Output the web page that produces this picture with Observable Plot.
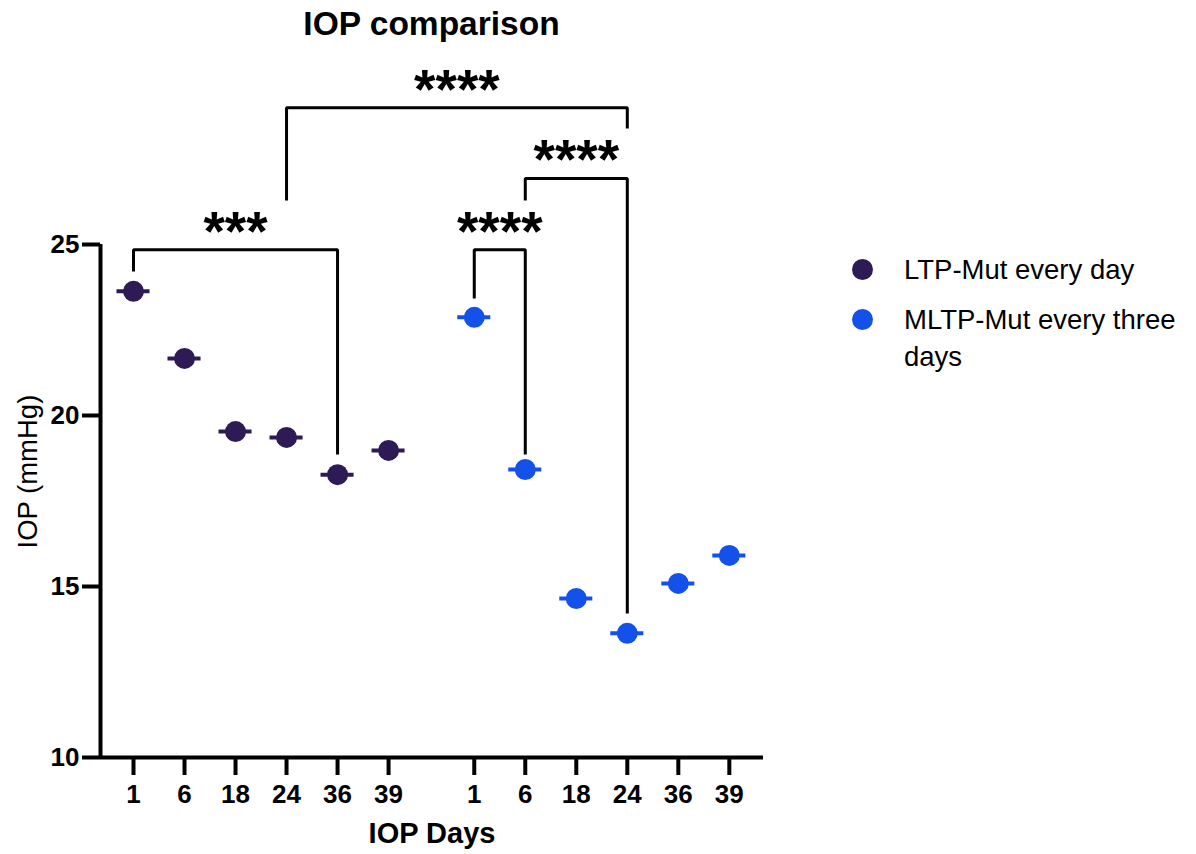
<!DOCTYPE html>
<html>
<head>
<meta charset="utf-8">
<script src="https://cdn.jsdelivr.net/npm/d3@7"></script>
<script src="https://cdn.jsdelivr.net/npm/@observablehq/plot@0.6"></script>
<style>
  html, body { margin: 0; padding: 0; background: #fff; }
  #wrap { position: relative; width: 1196px; height: 854px; overflow: hidden; font-family: "Liberation Sans", Arial, sans-serif; color: #000; }
  #title { position: absolute; left: 0; top: 0; width: 863px; height: 48px; line-height: 48px; text-align: center; font-size: 33.5px; font-weight: bold; }
  #chart { position: absolute; left: 0; top: 48px; }
  .legend-item { position: absolute; left: 852px; display: flex; align-items: flex-start; font-size: 27.5px; line-height: 37px; }
  .legend-item .sw { width: 21px; height: 21px; border-radius: 50%; margin-top: 8px; margin-right: 31px; flex: none; }
  .legend-item .lbl { width: 300px; }
</style>
</head>
<body>
<div id="wrap">
  <div id="title"></div>
  <div id="chart"></div>
  <div id="legend"></div>
</div>
<script>
// ---- data ----
const chartTitle = "IOP comparison";
const xTitle = "IOP Days";
const yTitle = "IOP (mmHg)";
const groups = ["LTP-Mut every day", "MLTP-Mut every three days"];
const days = ["1", "6", "18", "24", "36", "39"];
const ltpValues = [23.63, 21.67, 19.53, 19.36, 18.27, 18.98];
const mltpValues = [22.87, 18.42, 14.65, 13.63, 15.09, 15.91];
const groupColors = ["#2E1A55", "#1351EA"];
const yTicks = [10, 15, 20, 25];

// significance brackets: [groupIndex, day]
const bracketLabels = ["***", "****", "****", "****"];
const bracketFrom = [[0, "1"], [0, "24"], [1, "6"], [1, "1"]];
const bracketTo = [[0, "36"], [1, "24"], [1, "24"], [1, "6"]];
const bracketTop = [24.85, 29.0, 26.93, 24.85];
const bracketLeftEnd = [24.21, 26.29, 26.29, 23.42];
const bracketRightEnd = [18.86, 28.39, 14.21, 18.86];

// ---- layout helpers ----
const GROUP_OFFSET = 6.68; // slots between first day of each group (includes gap)
const pos = (g, day) => g * GROUP_OFFSET + days.indexOf(day);

const seriesValues = [ltpValues, mltpValues];
const points = [];
groups.forEach((g, gi) => {
  days.forEach((d, i) => {
    points.push({ group: g, gi, day: d, x: pos(gi, d), value: seriesValues[gi][i] });
  });
});

const tickPositions = points.map(p => p.x);

const bracketPaths = [];
const bracketText = [];
bracketLabels.forEach((lab, b) => {
  const x1 = pos(...bracketFrom[b]);
  const x2 = pos(...bracketTo[b]);
  bracketPaths.push({ b, x: x1, y: bracketLeftEnd[b] });
  bracketPaths.push({ b, x: x1, y: bracketTop[b] });
  bracketPaths.push({ b, x: x2, y: bracketTop[b] });
  bracketPaths.push({ b, x: x2, y: bracketRightEnd[b] });
  bracketText.push({ x: (x1 + x2) / 2, y: bracketTop[b], label: lab });
});

const xDomain = [-0.647, 12.35];

const plot = Plot.plot({
  width: 1196,
  height: 806,
  marginLeft: 100,
  marginRight: 433,
  marginTop: 25,
  marginBottom: 97,
  style: { fontFamily: "Liberation Sans, Arial, sans-serif", color: "#000", background: "#fff", overflow: "visible" },
  x: { type: "linear", domain: xDomain },
  y: { type: "linear", domain: [10, 30] },
  marks: [
    // axis lines
    Plot.ruleY([10], { stroke: "#000", strokeWidth: 4 }),
    Plot.ruleX([xDomain[0]], { y1: 10, y2: 25, stroke: "#000", strokeWidth: 4 }),
    // ticks (labels drawn as text marks below)
    Plot.axisY({ ticks: yTicks, tickSize: 18, strokeWidth: 4, tickFormat: () => "", label: null }),
    Plot.axisX({ ticks: tickPositions, tickSize: 18, strokeWidth: 4, tickFormat: () => "", label: null }),
    Plot.text(yTicks, { y: d => d, frameAnchor: "left", textAnchor: "end", dx: -21, fontSize: 26, fontWeight: "bold", lineAnchor: "middle", text: d => String(d) }),
    Plot.text(points, { x: "x", frameAnchor: "bottom", text: "day", dy: 37, fontSize: 26, fontWeight: "bold", lineAnchor: "middle" }),
    Plot.text([yTitle], { frameAnchor: "left", textAnchor: "middle", y: 18.36, rotate: -90, dx: -72, fontSize: 27.5, text: d => d }),
    Plot.text([xTitle], { frameAnchor: "bottom", dy: 85, fontSize: 29, fontWeight: "bold", text: d => d }),
    // brackets
    Plot.line(bracketPaths, { x: "x", y: "y", z: "b", stroke: "#000", strokeWidth: 3, strokeLinejoin: "miter", strokeLinecap: "butt" }),
    Plot.text(bracketText, { x: "x", y: "y", text: "label", fontSize: 55, fontWeight: "bold", lineAnchor: "bottom", dy: 0 }),
    // mean bars and points
    Plot.ruleY(points, { y: "value", x1: d => d.x - 0.324, x2: d => d.x + 0.324, stroke: d => groupColors[d.gi], strokeWidth: 4 }),
    Plot.dot(points, { x: "x", y: "value", r: 10.5, fill: d => groupColors[d.gi], stroke: "none" })
  ]
});
document.getElementById("chart").appendChild(plot);
document.getElementById("title").textContent = chartTitle;

// legend (HTML, right side)
const legend = document.getElementById("legend");
const legendTops = [251, 301];
groups.forEach((g, i) => {
  const item = document.createElement("div");
  item.className = "legend-item";
  item.style.top = legendTops[i] + "px";
  const sw = document.createElement("div");
  sw.className = "sw";
  sw.style.background = groupColors[i];
  const lbl = document.createElement("div");
  lbl.className = "lbl";
  lbl.textContent = g;
  item.appendChild(sw);
  item.appendChild(lbl);
  legend.appendChild(item);
});
</script>
</body>
</html>
